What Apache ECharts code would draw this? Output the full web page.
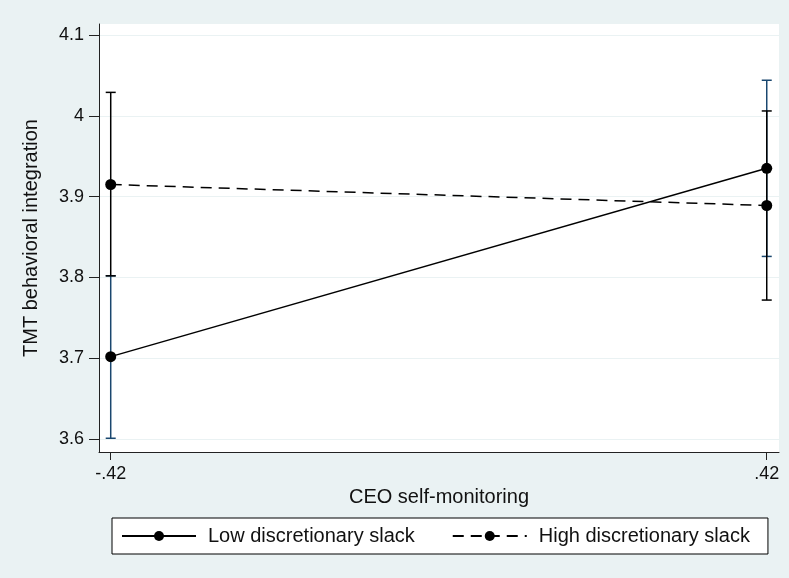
<!DOCTYPE html>
<html>
<head>
<meta charset="utf-8">
<script src="https://cdn.jsdelivr.net/npm/echarts@6.0.0/dist/echarts.min.js"></script>
<style>
  html, body { margin: 0; padding: 0; background: #eaf2f3; }
  #chart { width: 789px; height: 578px; }
</style>
</head>
<body>
<div id="chart"></div>
<script>
// Predicted TMT behavioral integration at low/high CEO self-monitoring
const xValues = [-0.42, 0.42];
const xTickLabels = ['-.42', '.42'];
const yTicks = [3.6, 3.7, 3.8, 3.9, 4.0, 4.1];

const lowMean  = [3.702, 3.935];
const lowLower = [3.601, 3.826];
const lowUpper = [3.802, 4.044];

const highMean  = [3.915, 3.889];
const highLower = [3.802, 3.772];
const highUpper = [4.029, 4.006];

const seriesNames = ['Low discretionary slack', 'High discretionary slack'];

const FONT = '"Liberation Sans", Arial, Helvetica, sans-serif';
const TEXT = '#111';

function points(mean) {
  return xValues.map((x, i) => [x, mean[i]]);
}
function intervals(lower, upper) {
  return xValues.map((x, i) => [x, lower[i], upper[i]]);
}

// vertical interval with short caps at both ends
function errorBar(color) {
  return function (params, api) {
    const x = api.value(0);
    const lo = api.coord([x, api.value(1)]);
    const hi = api.coord([x, api.value(2)]);
    const w = 5;
    const style = { stroke: color, lineWidth: 1.5 };
    return {
      type: 'group',
      children: [
        { type: 'line', shape: { x1: lo[0], y1: lo[1], x2: hi[0], y2: hi[1] }, style },
        { type: 'line', shape: { x1: lo[0] - w, y1: lo[1], x2: lo[0] + w, y2: lo[1] }, style },
        { type: 'line', shape: { x1: hi[0] - w, y1: hi[1], x2: hi[0] + w, y2: hi[1] }, style }
      ]
    };
  };
}

const chart = echarts.init(document.getElementById('chart'), null, { renderer: 'canvas' });

chart.setOption({
  animation: false,
  backgroundColor: '#eaf2f3',
  textStyle: { fontFamily: FONT, color: TEXT },
  grid: {
    left: 99, right: 10, top: 24, bottom: 126,
    show: true, backgroundColor: '#ffffff', borderWidth: 0
  },
  xAxis: {
    type: 'value',
    min: -0.435, max: 0.4357,
    name: 'CEO self-monitoring',
    nameLocation: 'middle',
    nameGap: 33,
    nameTextStyle: { fontSize: 20, fontFamily: FONT, color: TEXT },
    axisLine: { show: true, onZero: false, lineStyle: { color: '#222', width: 1 } },
    axisTick: { show: true, length: 8, lineStyle: { color: '#222' }, customValues: xValues },
    axisLabel: {
      fontSize: 18, fontFamily: FONT, color: TEXT, margin: 13,
      customValues: xValues,
      formatter: v => xTickLabels[xValues.findIndex(t => Math.abs(t - v) < 1e-9)]
    },
    splitLine: { show: false }
  },
  yAxis: {
    type: 'value',
    min: 3.584, max: 4.1136,
    name: 'TMT behavioral integration',
    nameLocation: 'middle',
    nameRotate: 90,
    nameGap: 58,
    nameTextStyle: { fontSize: 20, fontFamily: FONT, color: TEXT },
    axisLine: { show: true, onZero: false, lineStyle: { color: '#222', width: 1 } },
    axisTick: { show: true, length: 10, lineStyle: { color: '#222' }, customValues: yTicks },
    axisLabel: {
      fontSize: 18, fontFamily: FONT, color: TEXT, margin: 15,
      customValues: yTicks,
      formatter: v => String(Math.round(v * 10) / 10)
    },
    splitLine: { show: true, lineStyle: { color: '#eaf2f3', width: 1 } }
  },
  legend: {
    data: seriesNames,
    left: 112, top: 518,
    orient: 'horizontal',
    padding: [8, 18, 8, 9],
    backgroundColor: '#ffffff',
    borderColor: '#000000',
    borderWidth: 1,
    borderRadius: 0,
    itemWidth: 74,
    itemHeight: 12.5,
    itemGap: 37,
    textStyle: { fontSize: 20, lineHeight: 20, fontFamily: FONT, color: TEXT, padding: [0, 0, 0, 7] }
  },
  series: [
    {
      name: 'Low slack interval',
      type: 'custom',
      renderItem: errorBar('#1a476f'),
      data: intervals(lowLower, lowUpper),
      encode: { x: 0, y: [1, 2] },
      z: 2, silent: true
    },
    {
      name: 'High slack interval',
      type: 'custom',
      renderItem: errorBar('#000000'),
      data: intervals(highLower, highUpper),
      encode: { x: 0, y: [1, 2] },
      z: 3, silent: true
    },
    {
      name: seriesNames[0],
      type: 'line',
      data: points(lowMean),
      symbol: 'circle',
      symbolSize: 11,
      itemStyle: { color: '#000000' },
      lineStyle: { color: '#000000', width: 1.5, type: 'solid' },
      z: 4
    },
    {
      name: seriesNames[1],
      type: 'line',
      data: points(highMean),
      symbol: 'circle',
      symbolSize: 11,
      itemStyle: { color: '#000000' },
      lineStyle: { color: '#000000', width: 1.5, type: [11, 7] },
      z: 4
    }
  ]
});
</script>
</body>
</html>
